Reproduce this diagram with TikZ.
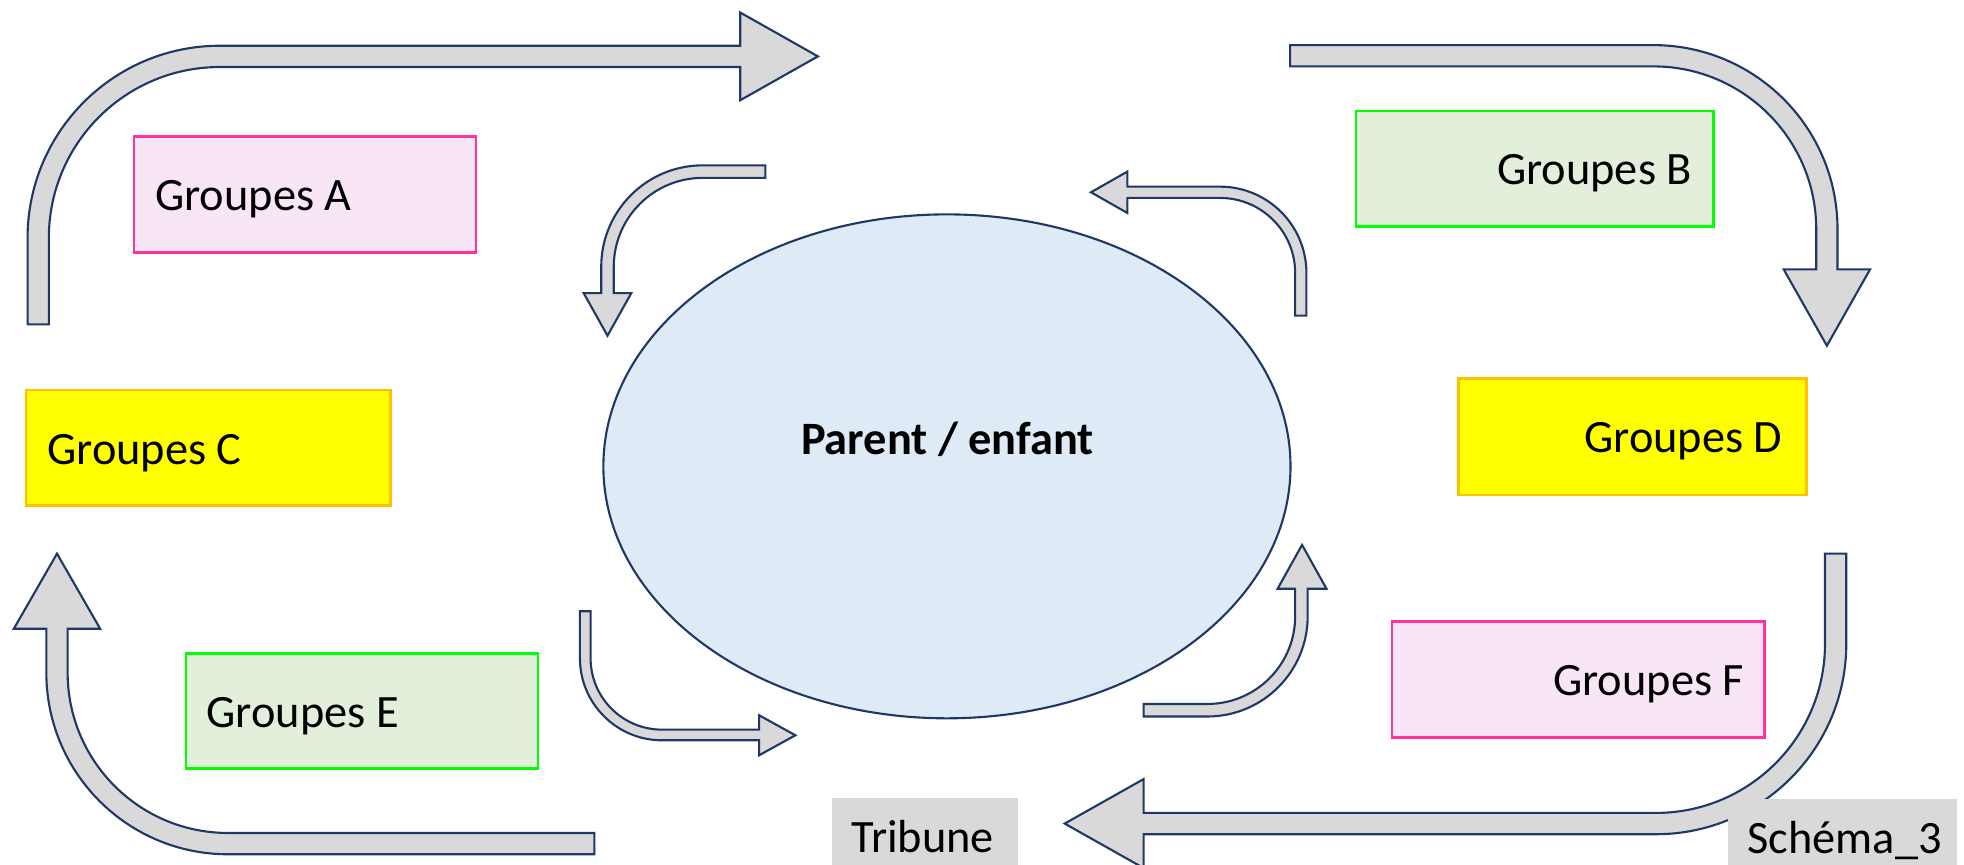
\documentclass[tikz,border=0pt]{standalone}
\usepackage{fontspec}
\setmainfont{Carlito}
\usetikzlibrary{shapes.geometric}
\definecolor{navy}{HTML}{1F3864}
\definecolor{arrowgray}{HTML}{D9D9D9}
\definecolor{blobfill}{HTML}{DEEBF7}
\definecolor{pinkfill}{HTML}{F8E6F6}
\definecolor{pinkline}{HTML}{FF3399}
\definecolor{greenfill}{HTML}{E2EFDA}
\definecolor{greenline}{HTML}{00FF00}
\definecolor{yellowfill}{HTML}{FFFF00}
\definecolor{yellowline}{HTML}{FFC000}

\begin{document}
\begin{tikzpicture}[x=0.012526cm, y=-0.012526cm,
    lbl/.style={inner sep=0pt, font=\fontsize{13.2}{16}\selectfont},
    blockarrow/.style={draw=navy, fill=arrowgray, line width=0.6pt},
    pinkbox/.style={draw=pinkline, fill=pinkfill, line width=0.7pt},
    greenbox/.style={draw=greenline, fill=greenfill, line width=0.7pt},
    yellowbox/.style={draw=yellowline, fill=yellowfill, line width=0.7pt},
    tagbox/.style={fill=arrowgray}]
	\useasboundingbox (0,0) rectangle (1568,689.8);
	% centre
	\node (parent) [ellipse, draw=navy, fill=blobfill, line width=0.6pt,
	  minimum width=6.872cm, minimum height=5.04cm, inner sep=0pt] at (756,372.3) {};
	\node (parenttxt) [lbl, anchor=base, font=\fontsize{13.2}{16}\selectfont\bfseries] at (756.5,362.6) {Parent / enfant};
	% big arrows
	\draw[blockarrow] (22,259) -- (22,190) arc (180:270:153.5) -- (591,36.5) -- (591,10) -- (653,45)
	  -- (591,80) -- (591,53.5) -- (175.5,53.5) arc (270:180:136.5) -- (39,259) -- cycle;
	\draw[blockarrow] (1030,36) -- (1320,36) arc (270:360:147) -- (1467,215) -- (1493,215) -- (1458.5,276)
	  -- (1424,215) -- (1450,215) -- (1450,183) arc (0:-90:130) -- (1030,53) -- cycle;
	\draw[blockarrow] (1457,442) -- (1474,442) -- (1474,514) arc (0:90:152) -- (913,666) -- (913,693)
	  -- (850,657.5) -- (913,622) -- (913,649) -- (1322,649) arc (90:0:135) -- cycle;
	\draw[blockarrow] (474.5,665) -- (474.5,682) -- (182,682) arc (90:180:145) -- (37,502) -- (11,502)
	  -- (45.5,442) -- (80,502) -- (54,502) -- (54,537) arc (180:90:128) -- cycle;
	% small arrows
	\draw[blockarrow] (611,132) -- (611,142) -- (561,142) arc (270:180:71) -- (490,234) -- (504,234)
	  -- (485,268) -- (466,234) -- (480,234) -- (480,213) arc (180:270:81) -- cycle;
	\draw[blockarrow] (1034,252) -- (1034,218) arc (0:-90:60) -- (900,158) -- (900,170) -- (871,153.5)
	  -- (900,137) -- (900,149) -- (974,149) arc (270:360:69) -- (1043,252) -- cycle;
	\draw[blockarrow] (463,488) -- (471.5,488) -- (471.5,525.5) arc (180:90:57) -- (606,582.5) -- (606,571)
	  -- (635,587) -- (606,603) -- (606,591) -- (528.5,591) arc (90:180:65.5) -- cycle;
	\draw[blockarrow] (913,562) -- (964,562) arc (90:0:70) -- (1034,470) -- (1020,470) -- (1039.5,435)
	  -- (1059,470) -- (1044,470) -- (1044,492) arc (0:90:80) -- (913,572) -- cycle;
	% groups
	\draw[pinkbox] (107,109) rectangle (380,201.5);
	\node (grpA) [lbl, anchor=base west] at (123.3,168.2) {Groupes A};
	\draw[greenbox] (1082.6,88.6) rectangle (1368,181);
	\node (grpB) [lbl, anchor=base east] at (1351.3,147.2) {Groupes B};
	\draw[yellowbox] (20.8,311.4) rectangle (311.9,403.7);
	\node (grpC) [lbl, anchor=base west] at (37.3,371.2) {Groupes C};
	\draw[yellowbox] (1164.3,302) rectangle (1442.4,395.2);
	\node (grpD) [lbl, anchor=base east] at (1423.7,361) {Groupes D};
	\draw[greenbox] (148.4,521.6) rectangle (429.7,613.4);
	\node (grpE) [lbl, anchor=base west] at (164.4,580.7) {Groupes E};
	\draw[pinkbox] (1111.4,496.3) rectangle (1408.8,588.6);
	\node (grpF) [lbl, anchor=base east] at (1393,555.4) {Groupes F};
	% tags
	\fill[tagbox] (664.5,637.3) rectangle (813,700);
	\node (tribune) [lbl, anchor=base west] at (679.1,680.7) {Tribune};
	\fill[tagbox] (1379.3,638) rectangle (1562,700);
	\node (schema) [lbl, anchor=base west] at (1394.5,681.2) {Schéma\_3};
\end{tikzpicture}
\end{document}
